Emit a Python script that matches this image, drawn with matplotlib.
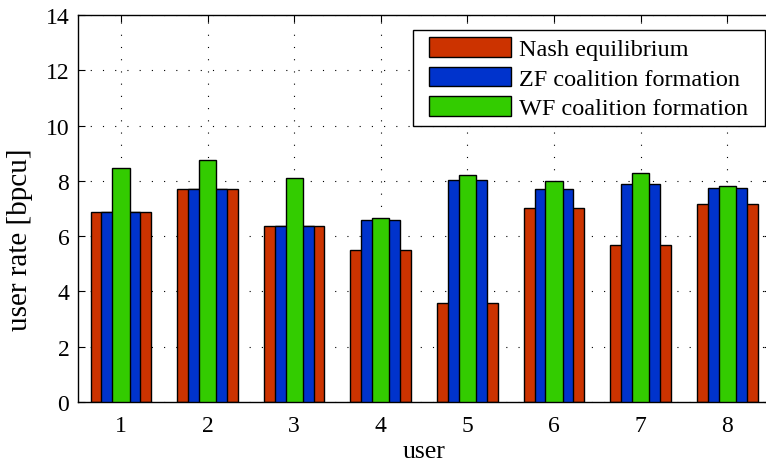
import numpy as np
import matplotlib.pyplot as plt
from matplotlib.path import Path

plt.rcParams['font.family'] = ['Liberation Serif', 'DejaVu Serif']
plt.rcParams['font.size'] = 17

users = [1, 2, 3, 4, 5, 6, 7, 8]
nash = [6.89, 7.69, 6.38, 5.51, 3.57, 7.02, 5.67, 7.16]
zf = [6.89, 7.69, 6.38, 6.58, 8.03, 7.70, 7.87, 7.75]
wf = [8.46, 8.74, 8.10, 6.65, 8.21, 8.00, 8.28, 7.82]


def wide_box(x0, y0, width, height, mutation_size):
    # extra room left and right only, like the MATLAB legend
    l = 0.33 * mutation_size
    r = 0.41 * mutation_size
    verts = [(x0 - l, y0), (x0 + width + r, y0), (x0 + width + r, y0 + height),
             (x0 - l, y0 + height), (x0 - l, y0)]
    codes = [Path.MOVETO, Path.LINETO, Path.LINETO, Path.LINETO, Path.CLOSEPOLY]
    return Path(verts, codes)


fig = plt.figure(figsize=(7.66, 4.64), dpi=100)
# axes runs past the right edge, as in the reference
ax = fig.add_axes([0.1014, 0.1315, 0.9045, 0.834])

x = np.array(users)
ax.bar(x, nash, width=0.70, color='#CC3300', edgecolor='black', linewidth=1, label='Nash equilibrium', zorder=2)
ax.bar(x, zf, width=0.45, color='#0033CC', edgecolor='black', linewidth=1, label='ZF coalition formation', zorder=3)
ax.bar(x, wf, width=0.20, color='#33CC00', edgecolor='black', linewidth=1, label='WF coalition formation', zorder=4)

ax.set_xlim(0.5, 8.5)
ax.set_ylim(0, 14)
ax.set_xticks(users)
ax.set_yticks(range(0, 15, 2))
ax.tick_params(direction='in', top=True, right=True, length=5, labelsize=17)
ax.tick_params(axis='x', pad=9.5)
ax.tick_params(axis='y', pad=6)
ax.grid(True, linestyle=(0, (1, 10)), color='black', linewidth=0.8, zorder=0)
ax.set_axisbelow(True)
for s in ax.spines.values():
    s.set_linewidth(1)

ax.set_xlabel('user', fontsize=18.5, labelpad=3)
ax.set_ylabel('user rate [bpcu]', fontsize=21)
ax.yaxis.set_label_coords(-0.0645, 0.421)

leg = ax.legend(loc='upper left', bbox_to_anchor=(0.496, 0.962), fancybox=False,
                edgecolor='black', framealpha=1, fontsize=17.5, handlelength=3.37,
                handleheight=0.86, borderpad=0.3, labelspacing=0.26, handletextpad=0.34,
                borderaxespad=0)
leg.get_frame().set_linewidth(1)
leg.get_frame().set_boxstyle(wide_box)

fig.savefig('out.png', dpi=100)
